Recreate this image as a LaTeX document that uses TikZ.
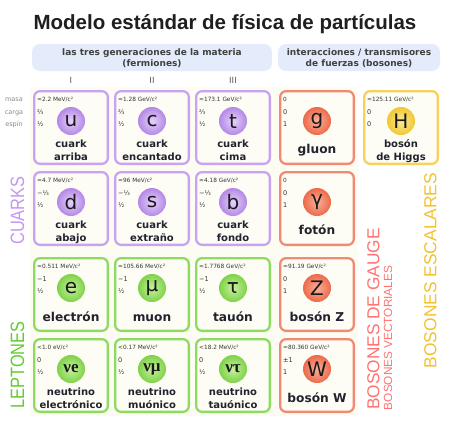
\documentclass[tikz,border=0pt]{standalone}
\usepackage{fontspec}
\setmainfont{DejaVu Sans}
\newfontfamily\libsans{Liberation Sans}
\newfontfamily\libcond[FakeStretch=0.85]{Liberation Sans}
\newfontfamily\nufont{Liberation Serif}
\definecolor{qc}{HTML}{C9A2F2}
\definecolor{qcirc}{HTML}{B488E6}
\definecolor{qlight}{HTML}{E6D2FB}
\definecolor{lc}{HTML}{8EDB62}
\definecolor{lcirc}{HTML}{7ED248}
\definecolor{llight}{HTML}{C8F0A0}
\definecolor{gc}{HTML}{F18A72}
\definecolor{gcirc}{HTML}{EC6A4A}
\definecolor{glight}{HTML}{F9B09A}
\definecolor{hc}{HTML}{F7D060}
\definecolor{hcirc}{HTML}{F0C830}
\definecolor{hlight}{HTML}{FBEB98}
\definecolor{qlab}{HTML}{C497F0}
\definecolor{llab}{HTML}{62CC2E}
\definecolor{glab}{HTML}{FF7373}
\definecolor{hlab}{HTML}{F2C230}
\definecolor{cardfill}{HTML}{FDFDF5}
\definecolor{headfill}{HTML}{E4ECFB}
\definecolor{smallgray}{HTML}{333333}
\definecolor{labgray}{HTML}{8A8A8A}
\definecolor{namecol}{HTML}{22232E}
\definecolor{symcol}{HTML}{1A1A1A}
\definecolor{creambg}{HTML}{FCFCF2}
\tikzset{
 card/.style={draw=#1c, fill=cardfill, line width=2.3pt, rounded corners=6pt,
   minimum width=73.7pt, minimum height=72.7pt, inner sep=0pt},
 masstxt/.style={font=\fontsize{5.8}{6}\selectfont, text=smallgray, inner sep=0pt, anchor=base west},
 chgtxt/.style={font=\fontsize{6.5}{7}\selectfont, text=smallgray, inner sep=0pt, anchor=base west},
 symtxt/.style={font=\fontsize{20}{22}\selectfont, text=symcol, inner sep=0pt},
 nameone/.style={font=\bfseries\fontsize{12.2}{13}\selectfont, text=namecol, inner sep=0pt, anchor=base},
 nametwo/.style={font=\bfseries\fontsize{10}{11}\selectfont, text=namecol, inner sep=0pt, anchor=base},
 headbox/.style={fill=headfill, rounded corners=8pt},
 headtxt/.style={font=\bfseries\fontsize{9}{10}\selectfont, text=black!75, inner sep=0pt, anchor=base},
 romtxt/.style={font=\fontsize{8.5}{9}\selectfont, text=black!65, inner sep=0pt, anchor=base},
 sidelab/.style={font=\fontsize{6.5}{7}\selectfont, text=labgray, inner sep=0pt, anchor=base},
 vlab/.style={rotate=90, inner sep=0pt},
}
% #1 name, #2 left, #3 top, #4 family, #5 mass, #6 charge, #7 spin, #8 symbol
\newcommand\pcard[8]{%
 \node[card=#4] (#1) at (#2+38,#3+37.5) {};
 \node[masstxt] (#1m) at (#2+4,#3+11) {#5};
 \node[chgtxt] (#1c) at (#2+4,#3+24.5) {#6};
 \node[chgtxt] (#1s) at (#2+4,#3+36.5) {#7};
 \shade[inner color=#4light, outer color=#4circ] (#2+38,#3+31) circle (14);
 \node[symtxt] (#1y) at (#2+38,#3+31) {#8};
}
\begin{document}
\begin{tikzpicture}[x=1pt,y=-1pt]
\useasboundingbox (0,0) rectangle (450,432);
\fill[white] (0,0) rectangle (450,432);
\fill[creambg] (30,87) rectangle (358,416);
% title
\node[font=\libsans\bfseries\fontsize{20.5}{22}\selectfont, text=black!88, inner sep=0pt, anchor=base] (title) at (225,29.7) {Modelo estándar de física de partículas};
% headers
\fill[headbox] (32,44) rectangle (272,71);
\fill[headbox] (278,44) rectangle (440,71);
\node[headtxt] (h1a) at (152,55) {las tres generaciones de la materia};
\node[headtxt] (h1b) at (152,66) {(fermiones)};
\node[headtxt] (h2a) at (359,55) {interacciones / transmisores};
\node[headtxt] (h2b) at (359,66) {de fuerzas (bosones)};
\node[romtxt] (r1) at (71,83) {I};
\node[romtxt] (r2) at (152,83) {II};
\node[romtxt] (r3) at (233,83) {III};
% side labels
\node[sidelab] (lmasa) at (14,101.5) {masa};
\node[sidelab] (lcarga) at (14,114) {carga};
\node[sidelab] (lespin) at (14,126) {espín};
% row 1
\pcard{pu}{33}{90}{q}{≈2.2 MeV/c²}{⅔}{½}{u}
\pcard{pc}{114}{90}{q}{≈1.28 GeV/c²}{⅔}{½}{c}
\pcard{pt}{195}{90}{q}{≈173.1 GeV/c²}{⅔}{½}{t}
\pcard{pg}{279}{90}{g}{0}{0}{1}{g}
\pcard{pH}{363}{90}{h}{≈125.11 GeV/c²}{0}{0}{H}
% row 2
\pcard{pd}{33}{171}{q}{≈4.7 MeV/c²}{−⅓}{½}{d}
\pcard{ps}{114}{171}{q}{≈96 MeV/c²}{−⅓}{½}{s}
\pcard{pb}{195}{171}{q}{≈4.18 GeV/c²}{−⅓}{½}{b}
\pcard{pgam}{279}{171}{g}{0}{0}{1}{γ}
% row 3
\pcard{pe}{33}{257}{l}{≈0.511 MeV/c²}{−1}{½}{e}
\pcard{pmu}{114}{257}{l}{≈105.66 MeV/c²}{−1}{½}{μ}
\pcard{ptau}{195}{257}{l}{≈1.7768 GeV/c²}{−1}{½}{τ}
\pcard{pZ}{279}{257}{g}{≈91.19 GeV/c²}{0}{1}{Z}
% row 4
\pcard{pne}{33}{338}{l}{<1.0 eV/c²}{0}{½}{\nufont\bfseries\fontsize{17}{18}\selectfont νe}
\pcard{pnm}{114}{338}{l}{<0.17 MeV/c²}{0}{½}{\nufont\bfseries\fontsize{17}{18}\selectfont νμ}
\pcard{pnt}{195}{338}{l}{<18.2 MeV/c²}{0}{½}{\nufont\bfseries\fontsize{17}{18}\selectfont ντ}
\pcard{pW}{279}{338}{g}{≈80.360 GeV/c²}{±1}{1}{W}
% names
\node[nametwo] (nu1) at (71,147.5) {cuark};
\node[nametwo] (nu2) at (71,160.5) {arriba};
\node[nametwo] (nc1) at (152,147.5) {cuark};
\node[nametwo] (nc2) at (152,160.5) {encantado};
\node[nametwo] (nt1) at (233,147.5) {cuark};
\node[nametwo] (nt2) at (233,160.5) {cima};
\node[nameone] (ng) at (317,153) {gluon};
\node[nametwo] (nH1) at (401,147.5) {bosón};
\node[nametwo] (nH2) at (401,160.5) {de Higgs};
\node[nametwo] (nd1) at (71,228.5) {cuark};
\node[nametwo] (nd2) at (71,241.5) {abajo};
\node[nametwo] (ns1) at (152,228.5) {cuark};
\node[nametwo] (ns2) at (152,241.5) {extraño};
\node[nametwo] (nb1) at (233,228.5) {cuark};
\node[nametwo] (nb2) at (233,241.5) {fondo};
\node[nameone] (ngam) at (317,234) {fotón};
\node[nameone] (ne) at (71,321) {electrón};
\node[nameone] (nmu) at (152,321) {muon};
\node[nameone] (ntau) at (233,321) {tauón};
\node[nameone] (nZ) at (317,321) {bosón Z};
\node[nametwo] (nne1) at (71,395.5) {neutrino};
\node[nametwo] (nne2) at (71,408.5) {electrónico};
\node[nametwo] (nnm1) at (152,395.5) {neutrino};
\node[nametwo] (nnm2) at (152,408.5) {muónico};
\node[nametwo] (nnt1) at (233,395.5) {neutrino};
\node[nametwo] (nnt2) at (233,408.5) {tauónico};
\node[nameone] (nW) at (317,402) {bosón W};
% vertical labels
\node[vlab, font=\libcond\fontsize{19.3}{20}\selectfont, text=qlab] (vq) at (17.5,210.5) {CUARKS};
\node[vlab, font=\libcond\fontsize{19.3}{20}\selectfont, text=llab] (vl) at (17.5,365) {LEPTONES};
\node[vlab, font=\libsans\fontsize{17.3}{18}\selectfont, text=glab] (vg) at (373.5,319) {BOSONES DE GAUGE};
\node[vlab, font=\libsans\fontsize{11.8}{12}\selectfont, text=glab] (vv) at (388,338) {BOSONES VECTORIALES};
\node[vlab, font=\libsans\fontsize{17.4}{18}\selectfont, text=hlab] (vh) at (430.5,270.5) {BOSONES ESCALARES};
\end{tikzpicture}
\end{document}
